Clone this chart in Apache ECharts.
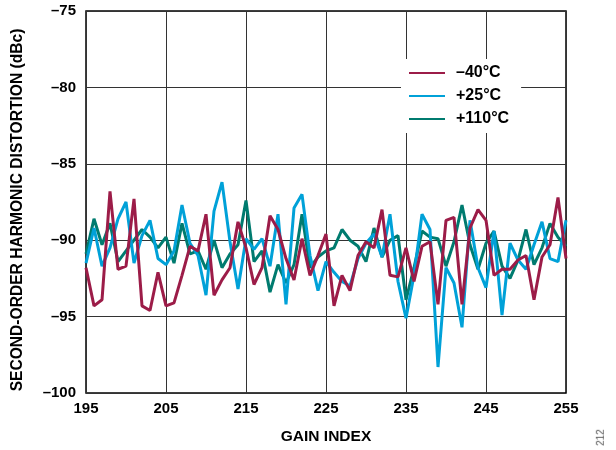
<!DOCTYPE html>
<html>
<head>
<meta charset="utf-8">
<script src="https://cdn.jsdelivr.net/npm/echarts@6/dist/echarts.min.js"></script>
<style>
html,body{margin:0;padding:0;background:#fff;}
#c{width:616px;height:450px;}
#note{position:absolute;left:592px;top:432px;font:10px "Liberation Sans",Arial,sans-serif;color:#555;transform:rotate(-90deg);transform-origin:center;}
</style>
</head>
<body>
<div id="c"></div>
<div id="note">212</div>
<script>
const gainStart = 195;
const seriesNames = ['\u201340\u00B0C', '+25\u00B0C', '+110\u00B0C'];
const xTicks = [195, 205, 215, 225, 235, 245, 255];
const yTicks = [-100, -95, -90, -85, -80, -75];
const yTitle = 'SECOND-ORDER HARMONIC DISTORTION (dBc)';
const xTitle = 'GAIN INDEX';

const minus40 = [
  -91.8, -94.3, -93.9, -86.8, -91.9, -91.7, -87.3, -94.3, -94.6, -92.1,
  -94.3, -94.1, -92.3, -90.4, -90.7, -88.3, -93.6, -92.6, -91.8, -88.8,
  -90.5, -92.9, -91.8, -88.4, -89.3, -91.2, -92.6, -89.9, -92.3, -91.0,
  -89.6, -94.3, -92.3, -93.3, -91.0, -90.1, -90.5, -88.0, -92.3, -92.4,
  -90.5, -92.7, -90.4, -90.1, -94.2, -88.7, -88.5, -94.2, -89.2, -88.0,
  -88.7, -92.3, -91.9, -91.9, -91.3, -91.0, -93.9, -91.1, -90.3, -87.2,
  -91.2
];
const plus25 = [
  -91.5, -89.2, -91.7, -90.5, -88.6, -87.5, -91.5, -89.7, -88.7, -91.2,
  -91.6, -90.7, -87.7, -90.2, -91.0, -93.6, -88.1, -86.2, -90.1, -93.2,
  -89.9, -90.6, -89.9, -91.7, -88.3, -94.2, -87.9, -87.0, -91.0, -93.3,
  -91.4, -92.1, -92.7, -93.0, -91.2, -90.2, -89.6, -91.1, -88.3, -92.7,
  -95.1, -92.3, -88.3, -89.3, -98.3, -91.8, -92.8, -95.7, -88.7, -91.8,
  -93.1, -89.4, -94.9, -90.2, -91.3, -91.9, -90.3, -88.8, -91.2, -91.4,
  -88.7
];
const plus110 = [
  -90.9, -88.6, -90.3, -88.9, -91.4, -90.7, -90.0, -89.3, -89.8, -90.5,
  -89.8, -91.5, -88.9, -90.9, -90.7, -91.9, -90.0, -91.8, -90.9, -90.3,
  -87.4, -91.4, -90.7, -93.4, -91.6, -92.8, -91.6, -88.3, -91.8, -91.1,
  -90.7, -90.5, -89.3, -90.0, -90.4, -91.4, -89.2, -91.1, -90.0, -89.7,
  -93.9, -91.8, -89.4, -89.8, -89.9, -91.7, -90.1, -87.7, -90.3, -91.9,
  -90.2, -89.4, -91.7, -92.5, -91.3, -89.3, -91.6, -90.5, -88.9, -89.8,
  -90.4
];

const colors = ['#9C1C48', '#00A1D8', '#007B6F'];
const allData = [minus40, plus25, plus110];
const toPairs = arr => arr.map((v, i) => [gainStart + i, v]);

const chart = echarts.init(document.getElementById('c'), null, {renderer: 'canvas'});
const font = '"Liberation Sans", Arial, sans-serif';
chart.setOption({
  animation: false,
  backgroundColor: '#fff',
  grid: {left: 86, right: 50, top: 11, bottom: 54, containLabel: false,
         show: true, borderColor: '#000', borderWidth: 1.5},
  graphic: [{
    type: 'text', x: 18, y: 210, rotation: Math.PI / 2,
    style: {text: yTitle, fontFamily: font, fontWeight: 'bold', fontSize: 15.6,
            fill: '#000', align: 'center', verticalAlign: 'middle'}
  }],
  legend: {
    orient: 'vertical', left: 401, top: 59,
    backgroundColor: '#fff', padding: [6, 12, 6, 8],
    itemWidth: 36, itemHeight: 12, itemGap: 7,
    icon: 'path://M0,4 L36,4 L36,6 L0,6 Z',
    textStyle: {fontFamily: font, fontWeight: 'bold', fontSize: 16, color: '#000', padding: [0, 0, 0, 6]},
    data: seriesNames
  },
  xAxis: {
    type: 'value', min: 195, max: 255, interval: 10,
    name: xTitle, nameLocation: 'middle', nameGap: 36,
    nameTextStyle: {fontFamily: font, fontWeight: 'bold', fontSize: 15.5, color: '#000'},
    axisLine: {show: false}, axisTick: {show: false},
    axisLabel: {fontFamily: font, fontWeight: 'bold', fontSize: 15, color: '#000', margin: 8,
      formatter: v => xTicks.includes(v) ? String(v) : ''},
    splitLine: {show: true, lineStyle: {color: '#333', width: 1}}
  },
  yAxis: {
    type: 'value', min: -100, max: -75, interval: 5,
    axisLine: {show: false}, axisTick: {show: false},
    axisLabel: {fontFamily: font, fontWeight: 'bold', fontSize: 15, color: '#000', margin: 10,
      formatter: v => yTicks.includes(v) ? '\u2013' + Math.abs(v) : ''},
    splitLine: {show: true, lineStyle: {color: '#333', width: 1}}
  },
  series: allData.map((d, k) => ({
    name: seriesNames[k], type: 'line', data: toPairs(d),
    symbol: 'none', lineStyle: {color: colors[k], width: 3},
    itemStyle: {color: colors[k]}, z: 3 - k
  }))
});
</script>
</body>
</html>
